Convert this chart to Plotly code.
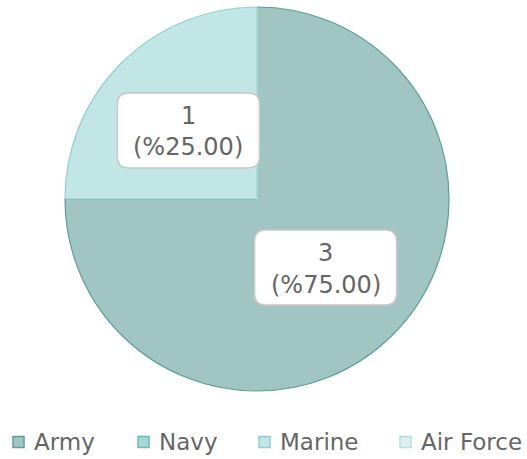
import math
import plotly.graph_objects as go

categories = ["Army", "Navy", "Marine", "Air Force"]
values = [3, 0, 1, 0]
fill_colors = ["#a0c5c3", "#a8d8d6", "#c2e6e6", "#dcf0f0"]
line_colors = ["#5f9e9a", "#6fbab6", "#8fcfcd", "#b5dfdf"]

W, H = 527, 459
PIE_CX, PIE_CY, PIE_R = 257, 199, 192  # pixel layout of the pie
BOX_W, BOX_H, BOX_RAD = 142, 75, 11
LEGEND_BOX_LEFT = [13, 138, 259, 400]   # legend layout (pixels)
LEGEND_Y, LEGEND_BOX = 442, 11
TEXT_COLOR = "#666666"
FONT = "DejaVu Sans"


def px(x):
    return x / W


def py(y):
    return 1 - y / H


fig = go.Figure()
fig.add_trace(go.Pie(
    labels=categories,
    values=values,
    sort=False,
    direction="clockwise",
    rotation=0,
    textinfo="none",
    hoverinfo="label+value+percent",
    marker=dict(colors=fill_colors, line=dict(color=line_colors, width=1.2)),
    domain=dict(x=[px(PIE_CX - PIE_R), px(PIE_CX + PIE_R)],
                y=[py(PIE_CY + PIE_R), py(PIE_CY - PIE_R)]),
    showlegend=False,
))


def rounded_rect(x0, y0, x1, y1, r):
    pts = [
        f"M {px(x0 + r)},{py(y0)}",
        f"L {px(x1 - r)},{py(y0)}",
        f"Q {px(x1)},{py(y0)} {px(x1)},{py(y0 + r)}",
        f"L {px(x1)},{py(y1 - r)}",
        f"Q {px(x1)},{py(y1)} {px(x1 - r)},{py(y1)}",
        f"L {px(x0 + r)},{py(y1)}",
        f"Q {px(x0)},{py(y1)} {px(x0)},{py(y1 - r)}",
        f"L {px(x0)},{py(y0 + r)}",
        f"Q {px(x0)},{py(y0)} {px(x0 + r)},{py(y0)}",
        "Z",
    ]
    return " ".join(pts)


# value labels in rounded white boxes at half radius along each slice's mid-angle
total = sum(values)
acc = 0
for cat, v in zip(categories, values):
    if v > 0:
        mid = (acc + v / 2) / total * 2 * math.pi
        lx = PIE_CX + 0.505 * PIE_R * math.sin(mid)
        ly = PIE_CY - 0.505 * PIE_R * math.cos(mid)
        fig.add_shape(
            type="path", xref="paper", yref="paper",
            path=rounded_rect(lx - BOX_W / 2, ly - BOX_H / 2, lx + BOX_W / 2, ly + BOX_H / 2, BOX_RAD),
            fillcolor="white", line=dict(color="#c8c8c8", width=1.5), layer="above",
        )
        for line_txt, dy in ((f"{v}", -14.5), (f"(%{v / total * 100:.2f})", 17)):
            fig.add_annotation(
                x=px(lx), y=py(ly + dy), xref="paper", yref="paper",
                text=line_txt, showarrow=False,
                font=dict(family=FONT, size=24, color=TEXT_COLOR),
                xanchor="center", yanchor="middle",
            )
    acc += v

# legend row
for cat, fc, lc, bx in zip(categories, fill_colors, line_colors, LEGEND_BOX_LEFT):
    fig.add_shape(
        type="rect", xref="paper", yref="paper",
        x0=px(bx), x1=px(bx + LEGEND_BOX),
        y0=py(LEGEND_Y + LEGEND_BOX / 2), y1=py(LEGEND_Y - LEGEND_BOX / 2),
        fillcolor=fc, line=dict(color=lc, width=1.5),
    )
    fig.add_annotation(
        x=px(bx + 19), y=py(LEGEND_Y), xref="paper", yref="paper",
        text=cat, showarrow=False, xanchor="left", yanchor="middle",
        font=dict(family=FONT, size=23, color=TEXT_COLOR),
    )

fig.update_layout(
    width=W, height=H,
    margin=dict(l=0, r=0, t=0, b=0),
    paper_bgcolor="white",
    plot_bgcolor="white",
    font=dict(family=FONT, color=TEXT_COLOR),
    showlegend=False,
)

fig.write_html("out.html", config={"displayModeBar": False},
               post_script="document.body.style.margin='0';")
